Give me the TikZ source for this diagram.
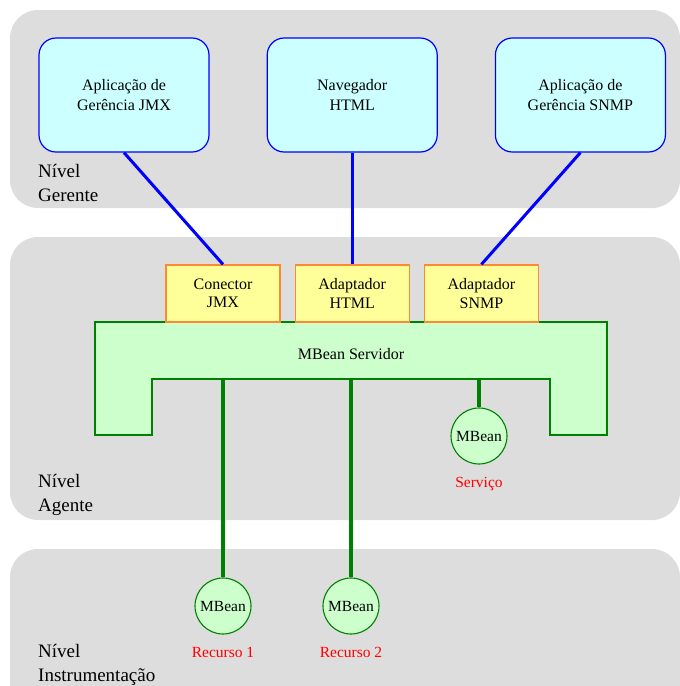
\documentclass[tikz,border=0pt]{standalone}
\usepackage{fontspec}
\setmainfont{Liberation Serif}
\usetikzlibrary{positioning}

\definecolor{painel}{HTML}{DDDDDD}
\definecolor{ciano}{HTML}{CCFFFF}
\definecolor{azul}{HTML}{0000FF}
\definecolor{amarelo}{HTML}{FFFF99}
\definecolor{laranja}{HTML}{FF8833}
\definecolor{verdeclaro}{HTML}{CCFFCC}
\definecolor{verde}{HTML}{008000}
\definecolor{vermelho}{HTML}{FF0000}

\begin{document}
\begin{tikzpicture}[x=1pt,y=-1pt,
  nivel/.style={fill=painel,rounded corners=28pt},
  rotulo/.style={align=left,inner sep=0pt,font=\fontsize{19}{24}\selectfont},
  aplicacao/.style={draw=azul,line width=1.2pt,fill=ciano,rounded corners=17pt,
    minimum width=170pt,minimum height=114pt,align=center,
    font=\fontsize{16}{20}\selectfont},
  adaptador/.style={draw=laranja,line width=1.2pt,fill=amarelo,
    minimum width=114pt,minimum height=57pt,align=center,
    font=\fontsize{16}{18.5}\selectfont},
  mbean/.style={circle,draw=verde,line width=1.1pt,fill=verdeclaro,
    minimum size=56pt,inner sep=0pt,font=\fontsize{15.5}{18}\selectfont},
  recurso/.style={text=vermelho,font=\fontsize{15.5}{18}\selectfont},
  ligacao/.style={azul,line width=3pt},
  barramento/.style={verde,line width=4pt}]
\useasboundingbox (0,0) rectangle (680,686);

% as tres camadas
\fill[nivel] (10,10) rectangle (680,208);
\fill[nivel] (10,237) rectangle (680,520);
\fill[nivel] (10,549) rectangle (680,740);

\node[rotulo,anchor=west] (nivelG) at (38,183) {Nível\\Gerente};
\node[rotulo,anchor=west] (nivelA) at (38,494.5) {Nível\\Agente};
\node[rotulo,anchor=west] (nivelI) at (38,665) {Nível\\Instrumentação};

% gerentes
\node[aplicacao] (appjmx) at (124,95) {Aplicação de\\Gerência JMX};
\node[aplicacao,right=57pt of appjmx] (navegador) {Navegador\\HTML};
\node[aplicacao,right=57pt of navegador] (appsnmp) {Aplicação de\\Gerência SNMP};

% servidor de MBeans
\draw[verde,line width=1.1pt,fill=verdeclaro]
  (95,322) -- (607,322) -- (607,435) -- (550,435) -- (550,379)
  -- (152,379) -- (152,435) -- (95,435) -- cycle;
\node[font=\fontsize{16}{18}\selectfont] (servidor) at (351,354) {MBean Servidor};
\coordinate (srv1) at (223,379);
\coordinate (srv2) at (351,379);
\coordinate (srv3) at (479,379);

% conectores e adaptadores
\node[adaptador] (conector) at (223,293.5) {Conector\\JMX};
\node[adaptador,right=14pt of conector] (adhtml) {Adaptador\\HTML};
\node[adaptador,right=14pt of adhtml] (adsnmp) {Adaptador\\SNMP};

% MBeans
\node[mbean] (servico) at (479,436) {MBean};
\node[recurso,below=9pt of servico] (lservico) {Serviço};
\node[mbean] (recurso1) at (223,606) {MBean};
\node[recurso,below=9pt of recurso1] (lrecurso1) {Recurso 1};
\node[mbean] (recurso2) at (351,606) {MBean};
\node[recurso,below=9pt of recurso2] (lrecurso2) {Recurso 2};

\draw[ligacao] (appjmx.south) -- (conector.north);
\draw[ligacao] (navegador.south) -- (adhtml.north);
\draw[ligacao] (appsnmp.south) -- (adsnmp.north);

\draw[barramento] (srv1) -- (recurso1.north);
\draw[barramento] (srv2) -- (recurso2.north);
\draw[barramento] (srv3) -- (servico.north);
\end{tikzpicture}
\end{document}
